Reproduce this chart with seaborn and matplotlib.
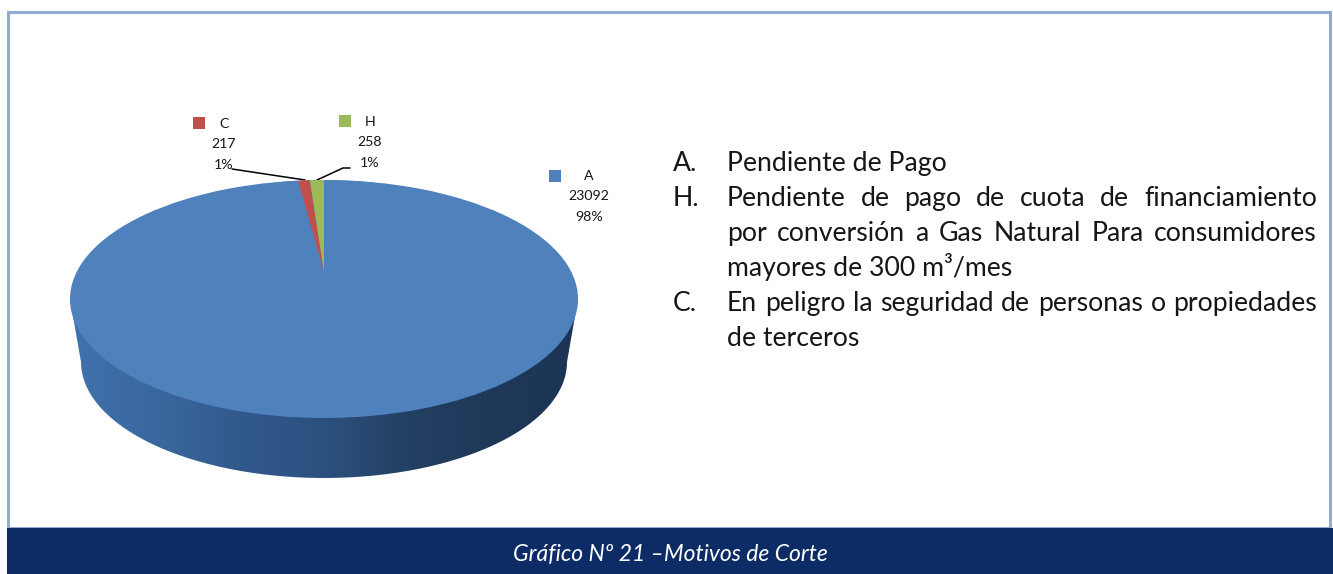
import matplotlib
matplotlib.use("Agg")
import matplotlib.pyplot as plt
import numpy as np
import seaborn as sns
from matplotlib.colors import LinearSegmentedColormap
from matplotlib.patches import PathPatch, Rectangle
from matplotlib.path import Path

# values
codes = ["A", "C", "H"]
counts = [23092, 217, 258]
percents = ["98%", "1%", "1%"]
colors = ["#4f81bd", "#c0504d", "#9bbb59"]

notes = [
    ("A.", ["Pendiente de Pago"]),
    ("H.", ["Pendiente de pago de cuota de financiamiento",
            "por conversión a Gas Natural Para consumidores",
            "mayores de 300 m³/mes"]),
    ("C.", ["En peligro la seguridad de personas o propiedades",
            "de terceros"]),
]
justified = {"Pendiente de pago de cuota de financiamiento",
             "por conversión a Gas Natural Para consumidores",
             "En peligro la seguridad de personas o propiedades"}
caption = "Gráfico Nº 21 –Motivos de Corte"

wall_colors = ["#4172ae", "#3a689e", "#32598c", "#2c5180", "#233f62", "#1f3859", "#1d3454"]

W, H = 1333, 574
INK = "#161616"

sns.set_theme(style="white")
plt.rcParams["font.family"] = ["Lato", "DejaVu Sans"]

fig = plt.figure(figsize=(W / 100, H / 100), dpi=100, facecolor="white")
ax = fig.add_axes([0, 0, 1, 1], zorder=0)
ax.axis("off")
renderer = fig.canvas.get_renderer()


def text_width(s, size, **kw):
    tmp = ax.text(0, 0, s, fontsize=size, **kw)
    width = tmp.get_window_extent(renderer).width
    tmp.remove()
    return width


def fit_size(s, px, **kw):
    return 10 * px / text_width(s, 10, **kw)


def pie_axes(cx, cy, rx, ry):
    a = fig.add_axes([(cx - rx) / W, 1 - (cy + ry) / H, 2 * rx / W, 2 * ry / H], zorder=1)
    a.patch.set_alpha(0)
    return a


def draw_pie(a, values, wedge_colors):
    a.pie(values, colors=wedge_colors, startangle=90, counterclock=False,
          wedgeprops={"linewidth": 0})
    a.set_aspect("auto")
    a.set_xlim(-1, 1)
    a.set_ylim(-1, 1)


# frame and caption band
ax.add_patch(Rectangle((8, 12), 1322, 516, fc="white", ec="#8fabd6", lw=2.2))
ax.add_patch(Rectangle((7, 528), W - 7, H - 528, fc="#0d2c65", ec="none"))
ax.text(670, 554, caption, color="white", style="italic",
        fontsize=fit_size(caption, 314, style="italic"), ha="center", va="center")

# side wall of the disc
cx, top_cy, rx, ry = 324, 299, 254, 119
wall_cy, wall_rx, wall_ry = 362, 243, 116
t = np.linspace(0, np.pi, 200)
wall_x = np.r_[cx + rx * np.cos(t), cx + wall_rx * np.cos(t[::-1])]
wall_y = np.r_[top_cy - ry * np.sin(t), wall_cy + wall_ry * np.sin(t[::-1])]
wall_path = Path(np.c_[wall_x, wall_y])
wall_cmap = LinearSegmentedColormap.from_list("wall", wall_colors)
im = ax.imshow(np.linspace(0, 1, 256)[None, :], cmap=wall_cmap, aspect="auto", zorder=2,
               extent=(cx - rx, cx + rx, wall_cy + wall_ry, top_cy), interpolation="bilinear")
im.set_clip_path(PathPatch(wall_path, transform=ax.transData))
ax.set_xlim(0, W)
ax.set_ylim(H, 0)

# top face, then the thin slices whose tip sits behind the centre
draw_pie(pie_axes(cx, top_cy, rx, ry), [sum(counts)], [colors[0]])
draw_pie(pie_axes(cx, 272, 206, 92), counts, colors)

# data labels
marker_xy = [(555, 176), (199, 123), (345, 121)]
label_xy = [(589, 176), (224, 124), (370, 122)]
sns.scatterplot(x=[m[0] for m in marker_xy], y=[m[1] for m in marker_xy], hue=codes,
                palette=dict(zip(codes, colors)), marker="s", s=85, linewidth=0,
                legend=False, ax=ax, zorder=3)
ax.set_xlim(0, W)
ax.set_ylim(H, 0)
ax.axis("off")
small = fit_size("23092", 41)
for (lx, ly), code, n, pct in zip(label_xy, codes, counts, percents):
    for i, s in enumerate([code, str(n), pct]):
        ax.text(lx, ly + i * 20.5, s, fontsize=small, color=INK, ha="center", va="center", zorder=4)

# leader lines
ax.plot([232, 305], [169, 180], color="black", lw=1.1, zorder=3)
ax.plot([350, 343, 317], [168, 168, 180], color="black", lw=1.1, zorder=3)

# notes on the right, justified the way the source page is
FS = fit_size("Pendiente de Pago", 220)
left, right = 727, 1317
y = 171
for letter, lines in notes:
    ax.text(673, y, letter, fontsize=FS, color=INK, va="baseline")
    for line in lines:
        if line in justified:
            words = line.split()
            widths = [text_width(w, FS) for w in words]
            gap = (right - left - sum(widths)) / (len(words) - 1)
            x = left
            for w, ww in zip(words, widths):
                ax.text(x, y, w, fontsize=FS, color=INK, va="baseline")
                x += ww + gap
        else:
            ax.text(left, y, line, fontsize=FS, color=INK, va="baseline")
        y += 35

fig.savefig("out.png", dpi=100)
